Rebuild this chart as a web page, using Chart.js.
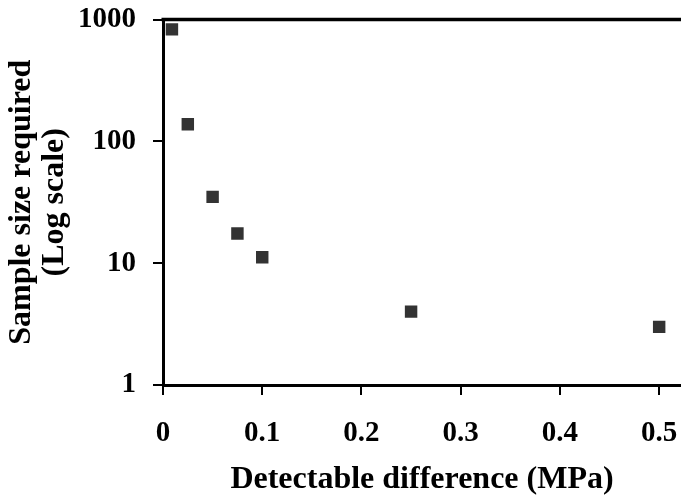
<!DOCTYPE html>
<html>
<head>
<meta charset="utf-8">
<script src="https://cdn.jsdelivr.net/npm/chart.js@4.4.0/dist/chart.umd.min.js"></script>
<style>
  html, body { margin: 0; padding: 0; background: #fff; }
</style>
</head>
<body>
<canvas id="chart" width="681" height="499"></canvas>
<script>
// detectable difference (MPa) vs. sample size required
var diffs = [0.009, 0.025, 0.05, 0.075, 0.1, 0.25, 0.5];
var sizes = [830, 138, 35, 17.5, 11.2, 4, 3];
var xTicks = [0, 0.1, 0.2, 0.3, 0.4, 0.5];
var yTicks = [1, 10, 100, 1000];
var xMax = 0.522;

var serif = "'Liberation Serif', 'Times New Roman', serif";

// top edge of the plot box (the right edge is cut off in the original)
var topBorder = {
  id: 'topBorder',
  afterDraw: function(chart) {
    var a = chart.chartArea, ctx = chart.ctx;
    ctx.save();
    ctx.strokeStyle = '#000';
    ctx.lineWidth = 3.5;
    ctx.beginPath();
    ctx.moveTo(a.left - 1.5, a.top);
    ctx.lineTo(a.right, a.top);
    ctx.stroke();
    ctx.restore();
  }
};

function tickFont() {
  return { family: serif, size: 29, weight: 'bold' };
}

new Chart(document.getElementById('chart'), {
  type: 'scatter',
  data: {
    datasets: [{
      data: diffs.map(function(d, i) { return { x: d, y: sizes[i] }; }),
      pointStyle: 'rect',
      pointRadius: 8.8,
      pointHoverRadius: 8.8,
      backgroundColor: '#333333',
      borderWidth: 0
    }]
  },
  options: {
    responsive: false,
    animation: false,
    layout: { autoPadding: false, padding: { top: 19.5, right: 0, bottom: 0, left: 0 } },
    plugins: {
      legend: { display: false },
      tooltip: { enabled: false }
    },
    scales: {
      x: {
        type: 'linear',
        position: 'bottom',
        min: 0,
        max: xMax,
        afterBuildTicks: function(axis) {
          axis.ticks = xTicks.map(function(v) { return { value: v }; });
        },
        afterFit: function(axis) {
          axis.height = 114;
          axis.paddingLeft = 0;
          axis.paddingRight = 0;
        },
        ticks: {
          font: tickFont(),
          color: '#000',
          padding: 21,
          maxRotation: 0,
          autoSkip: false,
          callback: function(v) { return String(v); }
        },
        grid: { display: true, drawOnChartArea: false, tickLength: 10, color: '#000', lineWidth: 2 },
        border: { display: true, color: '#000', width: 3 },
        title: {
          display: true,
          text: 'Detectable difference (MPa)',
          color: '#000',
          font: { family: serif, size: 32, weight: 'bold', lineHeight: 1.03 },
          padding: { top: 0, bottom: 3 }
        }
      },
      y: {
        type: 'logarithmic',
        min: 1,
        max: 1000,
        afterBuildTicks: function(axis) {
          axis.ticks = yTicks.map(function(v) { return { value: v }; });
        },
        afterFit: function(axis) {
          axis.width = 163;
          axis.paddingTop = 0;
          axis.paddingBottom = 0;
        },
        ticks: {
          font: tickFont(),
          color: '#000',
          padding: 17,
          autoSkip: false,
          callback: function(v) { return String(v); }
        },
        grid: { display: true, drawOnChartArea: false, tickLength: 10, color: '#000', lineWidth: 2 },
        border: { display: true, color: '#000', width: 3 },
        title: {
          display: true,
          text: ['Sample size required', '(Log scale)'],
          color: '#000',
          font: { family: serif, size: 32, weight: 'bold', lineHeight: 1.03 },
          padding: { top: 5, bottom: 0 }
        }
      }
    }
  },
  plugins: [topBorder]
});
</script>
</body>
</html>
